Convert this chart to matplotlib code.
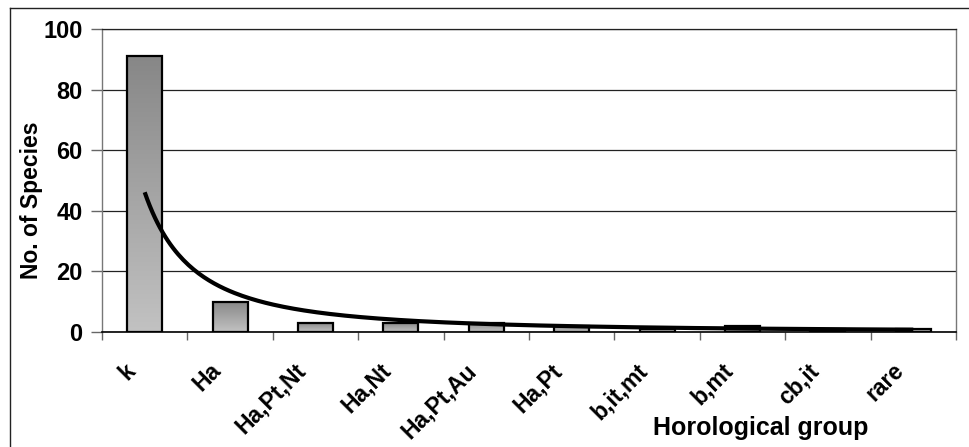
import numpy as np
import matplotlib
matplotlib.use("Agg")
import matplotlib.pyplot as plt
from matplotlib.lines import Line2D
from matplotlib.colors import LinearSegmentedColormap
import matplotlib.transforms as mtransforms

categories = ["k", "Ha", "Ha,Pt,Nt", "Ha,Nt", "Ha,Pt,Au", "Ha,Pt", "b,it,mt", "b,mt", "cb,it", "rare"]
species = [91, 10, 3, 3, 3, 2, 1, 2, 1, 1]
y_ticks = [0, 20, 40, 60, 80, 100]

plt.rcParams['font.family'] = ['Liberation Sans', 'DejaVu Sans']
plt.rcParams['font.weight'] = 'bold'

W, H = 970, 447
fig = plt.figure(figsize=(W / 100, H / 100), dpi=100)
ax = fig.add_axes([102 / W, 1 - 332 / H, (956 - 102) / W, (332 - 29) / H])

x = np.arange(len(categories))
bar_w = 0.41
bars = ax.bar(x, species, width=bar_w, color='none', edgecolor='black', linewidth=1.6, zorder=4)

cmap = LinearSegmentedColormap.from_list('g', ['#c2c2c2', '#878787'])
grad = np.linspace(0, 1, 256).reshape(-1, 1)
for b in bars:
    x0, y0 = b.get_x(), b.get_y()
    w, h = b.get_width(), b.get_height()
    im = ax.imshow(grad, cmap=cmap, origin='lower', aspect='auto',
                   extent=[x0, x0 + w, y0, y0 + h], zorder=3, interpolation='bilinear')
    im.set_clip_path(b)

# power trendline fitted to the bar values
xs = x + 1.0
coef = np.polyfit(np.log(xs), np.log(np.array(species, dtype=float)), 1)
xt = np.linspace(1, len(categories), 300)
yt = np.exp(coef[1]) * xt ** coef[0]
ax.plot(xt - 1, yt, color='black', linewidth=3.0, zorder=5, solid_capstyle='butt')

ax.set_xlim(-0.5, len(categories) - 0.5)
ax.set_ylim(0, 100)
ax.set_yticks(y_ticks)
ax.set_yticklabels([str(v) for v in y_ticks], fontsize=17, fontweight='bold')
ax.yaxis.grid(True, color='#222222', linewidth=0.9, zorder=1)
ax.set_axisbelow(True)

ax.set_xticks(x)
ax.set_xticklabels([])
ax.tick_params(axis='x', which='major', length=0)
ax.set_xticks(np.arange(-0.5, len(categories), 1.0), minor=True)
ax.tick_params(axis='x', which='minor', length=6, width=1, color='#666666', direction='out')
ax.tick_params(axis='y', length=8, width=1, color='#666666', direction='out', pad=6)

for sp in ['left', 'right']:
    ax.spines[sp].set_color('#777777')
    ax.spines[sp].set_linewidth(1)
ax.spines['bottom'].set_color('black')
ax.spines['bottom'].set_linewidth(1.2)
ax.spines['top'].set_color('#222222')
ax.spines['top'].set_linewidth(0.9)

offset = mtransforms.ScaledTranslation(-21 / 100, -27 / 100, fig.dpi_scale_trans)
trans = mtransforms.blended_transform_factory(ax.transData, ax.transAxes) + offset
for i, c in enumerate(categories):
    ax.text(i, 0, c, transform=trans, rotation=45, ha='right', va='top',
            rotation_mode='anchor', fontsize=16.5, fontweight='bold')

fig.text(32 / W, 1 - 200 / H, "No. of Species", rotation=90, ha='center', va='center',
         fontsize=16.5, fontweight='bold')
fig.text(761 / W, 1 - 428 / H, "Horological group", ha='center', va='center',
         fontsize=18, fontweight='bold')

fig.add_artist(Line2D([10 / W, 1.0], [1 - 8 / H, 1 - 8 / H], transform=fig.transFigure,
                      color='#222222', linewidth=1))
fig.add_artist(Line2D([10 / W, 10 / W], [1 - 8 / H, 0], transform=fig.transFigure,
                      color='#222222', linewidth=1))

fig.savefig("out.png", dpi=100)
